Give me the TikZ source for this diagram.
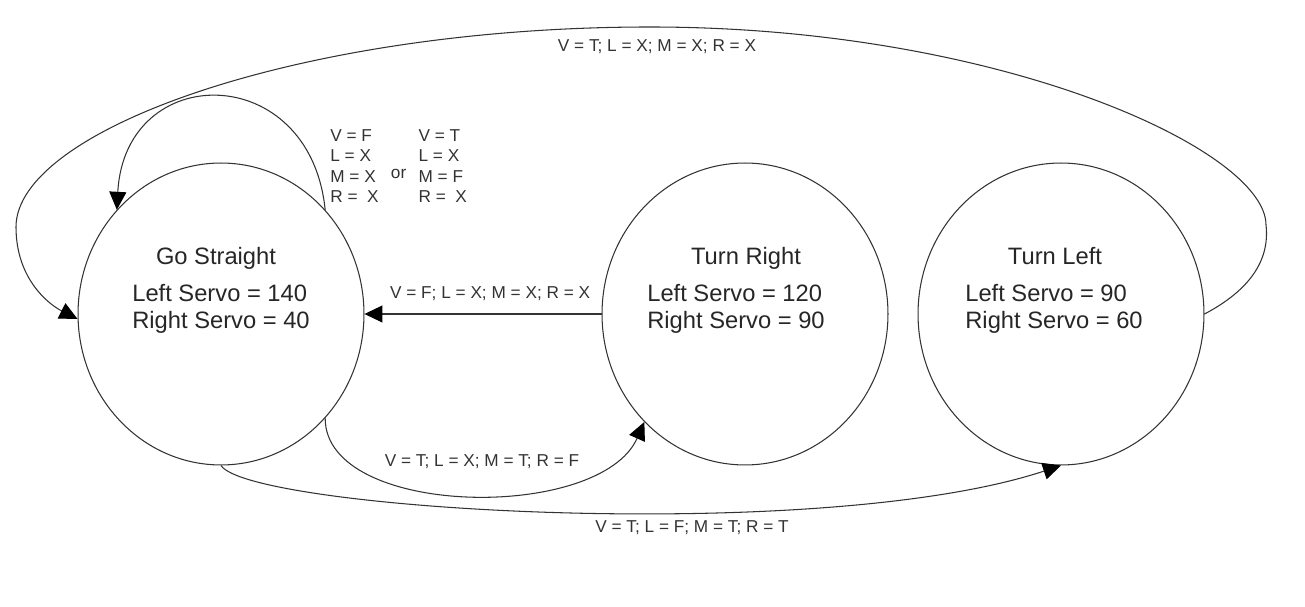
\documentclass[tikz,border=0pt]{standalone}
\usepackage{fontspec}
\setmainfont{Liberation Sans}
\usetikzlibrary{positioning, arrows.meta, shapes.geometric}

\begin{document}
\begin{tikzpicture}[x=0.02cm, y=-0.02cm,
    state/.style={ellipse, draw=black!80, line width=0.6pt, minimum width=5.72cm, minimum height=6.04cm, inner sep=0pt},
    statetitle/.style={font=\fontsize{13.5}{15}\selectfont, text=black!85, anchor=base, inner sep=0pt},
    servo/.style={font=\fontsize{13.5}{15}\selectfont, text=black!85, anchor=base west, inner sep=0pt},
    cond/.style={font=\fontsize{9.8}{11.4}\selectfont, text=black!80, inner sep=0pt},
    trans/.style={draw=black!80, line width=0.6pt, -{Triangle[length=0.36cm, width=0.34cm, black]}}]
    \useasboundingbox (0,0) rectangle (1305,607);

    \node[state] (gs) at (221,314) {};
    \node[state] (tr) at (745,314) {};
    \node[state] (tl) at (1061,314) {};

    \node[statetitle] (gs-title) at (216,265) {Go Straight};
    \node[servo] (gs-left) at (132,302) {Left Servo = 140};
    \node[servo] (gs-right) at (132,329) {Right Servo = 40};
    \node[statetitle] (tr-title) at (746,265) {Turn Right};
    \node[servo] (tr-left) at (647,302) {Left Servo = 120};
    \node[servo] (tr-right) at (647,329) {Right Servo = 90};
    \node[statetitle] (tl-title) at (1055,265) {Turn Left};
    \node[servo] (tl-left) at (965,302) {Left Servo = 90};
    \node[servo] (tl-right) at (965,329) {Right Servo = 60};

    % transitions
    \draw[trans] (tl.east) .. controls (1250,290) and (1270,260) .. (1266,225)
        .. controls (1266,150) and (1000,27) .. (650,27)
        .. controls (300,27) and (16,130) .. (16,227)
        .. controls (16,280) and (50,305) .. (gs.182);
    \draw[trans] (gs.45) .. controls (310,60) and (125,60) .. (gs.135);
    \draw[trans] (tr.west) -- node[cond, pos=0.47, above=7.5pt] (lbl-back) {V = F; L = X; M = X; R = X} (gs.east);
    \draw[trans] (gs.-45) .. controls (325,518) and (600,522) .. (tr.227);
    \draw[trans] (gs.south) .. controls (250,510) and (820,545) .. (tl.south);

    \node[cond] (lbl-top) at (657,47) {V = T; L = X; M = X; R = X};
    \node[cond] (lbl-fwd) at (482,462) {V = T; L = X; M = T; R = F};
    \node[cond] (lbl-left) at (692,528) {V = T; L = F; M = T; R = T};
    \node[cond, anchor=west] (lbl-loop) at (330,168) {%
        \begin{tabular}{@{}l@{\hspace{7pt}}c@{\hspace{7pt}}l@{}}
            V = F & & V = T\\
            L = X & & L = X\\
            M = X & \raisebox{2pt}{or} & M = F\\
            R = \ X & & R = \ X
        \end{tabular}};
\end{tikzpicture}
\end{document}
